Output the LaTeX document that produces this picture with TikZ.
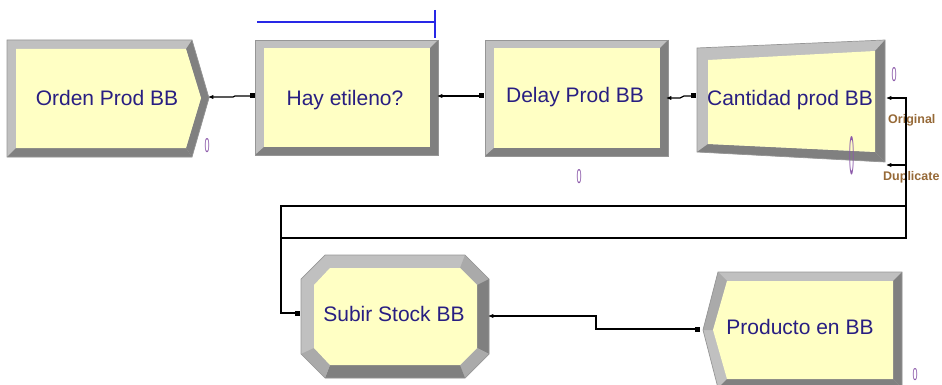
\documentclass[tikz,border=0pt]{standalone}
\usepackage{fontspec}
\setmainfont{Liberation Sans}
\usetikzlibrary{shapes.geometric}

\definecolor{bevlite}{RGB}{192,192,192}
\definecolor{bevmid}{RGB}{170,170,170}
\definecolor{bevdark}{RGB}{128,128,128}
\definecolor{rimgray}{RGB}{150,150,150}
\definecolor{faceyel}{RGB}{255,255,196}
\definecolor{lbltext}{RGB}{40,30,130}
\definecolor{cntcol}{RGB}{140,90,170}
\definecolor{portcol}{RGB}{150,105,55}
\definecolor{qblue}{RGB}{40,40,230}

\tikzset{
  lite/.style={fill=bevlite},
  midtone/.style={fill=bevmid},
  dark/.style={fill=bevdark},
  face/.style={fill=faceyel},
  rim/.style={draw=rimgray, line width=0.7pt},
  modlabel/.style={anchor=base, inner sep=0pt, text=lbltext,
    font=\fontsize{21}{24}\selectfont},
  counter/.style={anchor=base, inner sep=0pt, text=cntcol,
    font=\fontsize{18}{20}\selectfont},
  portlabel/.style={anchor=base west, inner sep=0pt, text=portcol,
    font=\bfseries\fontsize{12.5}{14}\selectfont},
  route/.style={draw=black, line width=1.3pt},
  inport/.style={rectangle, fill=black, draw=none, minimum width=5pt,
    minimum height=5pt, inner sep=0pt},
  outport/.style={isosceles triangle, shape border rotate=180, fill=black,
    draw=none, minimum width=4pt, minimum height=3.5pt, inner sep=0pt},
  queueline/.style={draw=qblue, line width=1.5pt}
}

\begin{document}
\begin{tikzpicture}[x=1pt, y=-1pt]
\useasboundingbox (0,0) rectangle (942,385);
\clip (0,0) rectangle (942,385);

% ---------- Create: Orden Prod BB ----------
\fill[lite] (7,40) -- (192,40) -- (209,98) -- (192,157) -- (7,157) -- cycle;
\fill[dark] (192,40) -- (209,98) -- (201,98) -- (186,49) -- cycle;
\fill[dark] (209,98) -- (192,157) -- (186,148) -- (201,98) -- cycle;
\fill[dark] (192,157) -- (7,157) -- (16,148) -- (186,148) -- cycle;
\fill[face] (16,49) -- (186,49) -- (201,98) -- (186,148) -- (16,148) -- cycle;
\draw[rim] (7,40) -- (192,40) -- (209,98) -- (192,157) -- (7,157) -- cycle;
\node[modlabel] (orden) at (107,106) {Orden Prod BB};
\node[counter] (ordenCount) at (207,152) {\resizebox{5pt}{14pt}{0}};

% ---------- Decide: Hay etileno? ----------
\fill[lite] (255,40) rectangle (438,155);
\fill[dark] (438,40) -- (438,155) -- (255,155) -- (264,147) -- (430,147) -- (430,48) -- cycle;
\fill[face] (264,48) rectangle (430,147);
\draw[rim] (255,40) rectangle (438,155);
\node[modlabel] (hay) at (345,106) {Hay etileno?};
\draw[queueline] (257,22) -- (435,22) (435,10) -- (435,38);

% ---------- Process: Delay Prod BB ----------
\fill[lite] (485,40) rectangle (668,156);
\fill[dark] (668,40) -- (668,156) -- (485,156) -- (494,148) -- (660,148) -- (660,48) -- cycle;
\fill[face] (494,48) rectangle (660,148);
\draw[rim] (485,40) rectangle (668,156);
\node[modlabel] (delay) at (575,103) {Delay Prod BB};
\node[counter] (delayCount) at (579,183) {\resizebox{5pt}{14pt}{0}};

% ---------- Separate: Cantidad prod BB ----------
\fill[lite] (697,48) -- (885,40) -- (885,162) -- (697,152) -- cycle;
\fill[dark] (885,40) -- (885,162) -- (875,152) -- (875,51) -- cycle;
\fill[dark] (885,162) -- (697,152) -- (708,144) -- (875,152) -- cycle;
\fill[face] (708,60) -- (875,51) -- (875,152) -- (708,144) -- cycle;
\draw[rim] (697,48) -- (885,40) -- (885,162) -- (697,152) -- cycle;
\node[modlabel] (cantidad) at (790,106) {Cantidad prod BB};
\node[counter] (cantCount) at (894,82) {\resizebox{5pt}{14pt}{0}};
\node[counter] (cantQueue) at (852,175) {\resizebox{5pt}{38pt}{0}};
\node[portlabel] (origLbl) at (888,124) {Original};
\node[portlabel] (dupLbl) at (883,180) {Duplicate};

% ---------- Assign: Subir Stock BB ----------
\fill[lite] (325,255) -- (465,255) -- (489,279) -- (489,354) -- (465,378)
  -- (325,378) -- (301,354) -- (301,279) -- cycle;
\fill[midtone] (465,255) -- (489,279) -- (477,285) -- (460,268) -- cycle;
\fill[dark] (489,279) -- (489,354) -- (477,348) -- (477,285) -- cycle;
\fill[midtone] (489,354) -- (465,378) -- (460,365) -- (477,348) -- cycle;
\fill[dark] (465,378) -- (325,378) -- (330,365) -- (460,365) -- cycle;
\fill[midtone] (325,378) -- (301,354) -- (314,348) -- (330,365) -- cycle;
\fill[face] (330,268) -- (460,268) -- (477,285) -- (477,348) -- (460,365)
  -- (330,365) -- (314,348) -- (314,285) -- cycle;
\draw[rim] (325,255) -- (465,255) -- (489,279) -- (489,354) -- (465,378)
  -- (325,378) -- (301,354) -- (301,279) -- cycle;
\node[modlabel] (subir) at (394,321) {Subir Stock BB};

% ---------- Dispose: Producto en BB ----------
\fill[lite] (718,272) -- (902,272) -- (902,388) -- (718,388) -- (703,330) -- cycle;
\fill[dark] (902,272) -- (902,388) -- (893,379) -- (893,281) -- cycle;
\fill[dark] (902,388) -- (718,388) -- (727,379) -- (893,379) -- cycle;
\fill[midtone] (718,272) -- (703,330) -- (713,330) -- (727,281) -- cycle;
\fill[face] (727,281) -- (893,281) -- (893,379) -- (727,379) -- (713,330) -- cycle;
\draw[rim] (718,272) -- (902,272) -- (902,388) -- (718,388) -- (703,330) -- cycle;
\node[modlabel] (producto) at (800,334) {Producto en BB};
\node[counter] (prodCount) at (915,380) {\resizebox{5pt}{12pt}{0}};

% ---------- ports ----------
\node[outport] (ordenOut) at (212,97) {};
\node[inport]  (hayIn)    at (252,96) {};
\node[outport] (hayOut)   at (441,96) {};
\node[inport]  (delayIn)  at (481,96) {};
\node[outport] (delayOut) at (670,98) {};
\node[inport]  (cantIn)   at (693,96) {};
\node[outport] (cantOrig) at (890,98) {};
\node[outport] (cantDup)  at (890,165) {};
\node[inport]  (subirIn)  at (297,313) {};
\node[outport] (subirOut) at (492,316) {};
\node[inport]  (prodIn)   at (697,329) {};

% ---------- connectors ----------
\draw[route] (ordenOut.center) -- (233,97) -- (235,96) -- (hayIn.center);
\draw[route] (hayOut.center) -- (delayIn.center);
\draw[route] (delayOut.center) -- (680,98) -- (684,96) -- (cantIn.center);
\draw[route] (cantOrig.center) -- (906,98) |- (281,206) |- (subirIn.center);
\draw[route] (cantDup.center) -- (906,165) |- (281,238) |- (subirIn.center);
\draw[route] (subirOut.center) -- (596,316) |- (prodIn.center);
\end{tikzpicture}
\end{document}
